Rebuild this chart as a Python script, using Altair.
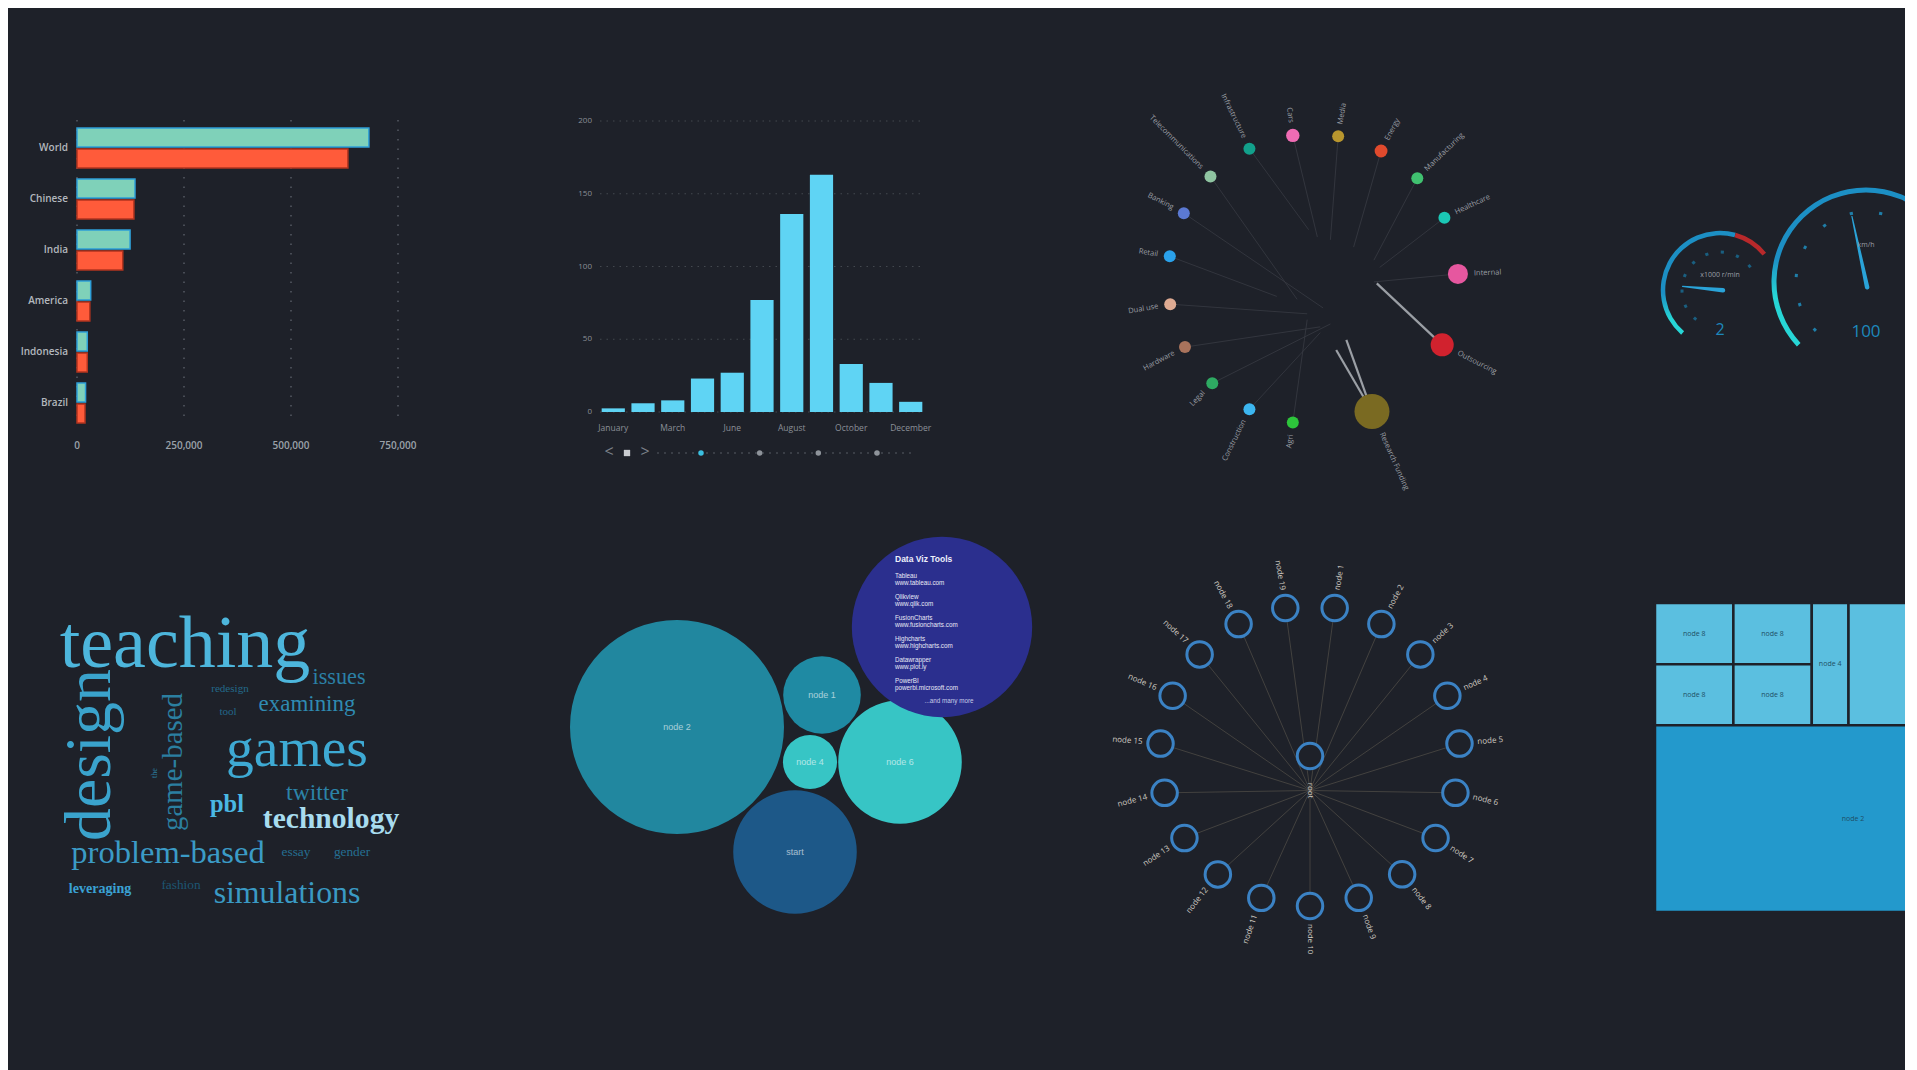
import math
import altair as alt
import pandas as pd

OX, OY = 8, 8
W, H = 1897, 1062
BG = "#1e2129"
SANS = "Open Sans"


def RX(a, b):
    return [a - OX, b - OX]


def RY(a, b):
    return [a - OY, b - OY]


# ===================== DATA =====================
# 1. horizontal grouped bars
countries = ["World", "Chinese", "India", "America", "Indonesia", "Brazil"]
speakers_a = [682000, 135500, 124000, 32000, 24000, 20000]
speakers_b = [633000, 133000, 107000, 30000, 24000, 18700]
series_names = ["Native speakers", "Second language"]
bar_ticks = [0, 250000, 500000, 750000]

# 2. monthly columns
months = ["January", "February", "March", "April", "June", "July",
          "August", "September", "October", "November", "December"]
month_values = [2.5, 6, 8, 23, 27, 77, 136, 163, 33, 20, 7]
month_labels = ["January", "March", "June", "August", "October", "December"]
col_ticks = [0, 50, 100, 150, 200]
pages = [1, 2, 3, 4]
page_state = ["current", "other", "other", "other"]

# 3. radial network
net_names = ["Infrastructure", "Cars", "Media", "Energy", "Manufacturing", "Healthcare",
             "Internal", "Outsourcing", "Research Funding", "Agri", "Construction", "Legal",
             "Hardware", "Dual use", "Retail", "Banking", "Telecommunications"]
net_angles = [-26, -8, 10, 28, 46, 65, 88, 117, 156, 188, 206, 224, 242, 260, 279, 297, 315]
net_weights = [1.0, 1.25, 1.0, 1.15, 1.0, 1.0, 2.8, 3.7, 8.5, 1.0, 1.0, 1.0, 1.0, 1.0, 1.0, 1.0, 1.0]
net_colors = ["#12a08b", "#f06cb4", "#b8962e", "#e04a2d", "#40c170", "#1bc7b5", "#e6579f",
              "#d1222e", "#7a6a22", "#2dc53b", "#3cb6f0", "#2eaa62", "#a9735c", "#deaa92",
              "#2aa1ea", "#5b79d2", "#8fc4a1"]
edge_src = list(range(17)) + [8]
edge_tx = [-0.03, 0.03, 0.12, 0.28, 0.42, 0.46, 0.42, 0.44, 0.16, -0.04, 0.05, 0.12, 0.05, -0.04, -0.25, 0.07, -0.11, 0.23]
edge_ty = [0.34, 0.29, 0.27, 0.22, 0.13, 0.08, -0.02, -0.03, -0.49, -0.28, -0.37, -0.31, -0.33, -0.24, -0.12, -0.2, -0.14, -0.42]
edge_strength = [1, 1, 1, 1, 1, 1, 1, 3, 4, 1, 1, 1, 1, 1, 1, 1, 1, 4]

# 4. gauges
rpm_value = 2.3
rpm_max = 8
rpm_red = 6.5
rpm_ticks = [0, 1, 2, 3, 4, 5, 6, 7, 8]
speed_value = 100
speed_max = 220
speed_ticks = [0, 20, 40, 60, 80, 100, 120, 140, 160, 180, 200, 220]

# 5. word cloud
words = ["teaching", "design", "games", "problem-based", "simulations", "technology",
         "game-based", "pbl", "twitter", "examining", "issues", "leveraging", "gender",
         "essay", "fashion", "redesign", "tool", "the"]
word_weight = [100, 89, 75, 44, 43, 40, 39, 33, 32, 31, 30, 19, 18, 18, 18, 15, 15, 11]
word_colors = ["#4db6dc", "#3aa3cc", "#3eaad4", "#3b9bc6", "#3a9ac4", "#a8dcef",
               "#2b7fa0", "#4ab8e3", "#2c83a8", "#2f8bb2", "#2b80a6", "#3aa2d4", "#256f92",
               "#256f92", "#1d5673", "#23698a", "#22678a", "#2b7fa0"]
bold_words = ["technology", "pbl", "leveraging"]
# layout of the cloud (cloud units)
word_x = [36.25, 17.5, 64.25, 32.0, 61.75, 72.75, 35.5, 46.75, 69.25, 66.75, 74.75, 15.0, 78.0, 64.0, 35.25, 47.5, 47.0, 29.25]
word_y = [68.25, 46.25, 43.4, 19.25, 9.25, 28.0, 44.5, 32.0, 35.0, 57.25, 64.0, 11.75, 21.0, 21.0, 12.75, 62.0, 56.25, 41.75]
word_rot = [0, 270, 0, 0, 0, 0, 270, 0, 0, 0, 0, 0, 0, 0, 0, 0, 0, 270]

# 6. bubbles
bubble_names = ["node 2", "node 1", "node 4", "node 6", "start", "Data Viz Tools"]
bubble_values = [114, 15, 7.3, 38, 38, 81]
bubble_colors = ["#21879f", "#1f8aa3", "#37c5c5", "#37c5c5", "#1d5888", "#2b2f8e"]
bubble_x = [2.34, 5.24, 5.0, 6.8, 4.7, 7.64]
bubble_y = [4.66, 5.30, 3.96, 3.96, 2.16, 6.66]
tools = ["Tableau", "Qlikview", "FusionCharts", "Highcharts", "Datawrapper", "PowerBI"]
tool_urls = ["www.tableau.com", "www.qlik.com", "www.fusioncharts.com",
             "www.highcharts.com", "www.plot.ly", "powerbi.microsoft.com"]

# 7. star network
star_labels = ["node 1", "node 2", "node 3", "node 4", "node 5", "node 6", "node 7",
               "node 8", "node 9", "node 10", "node 11", "node 12", "node 13", "node 14",
               "node 15", "node 16", "node 17", "node 18", "node 19"]

# 8. treemap
tm_names = ["node 8", "node 8", "node 8", "node 8", "node 4", "node 5", "node 2"]
tm_values = [48, 48, 48, 48, 45, 248, 740]
tm_group = ["top", "top", "top", "top", "top", "top", "bottom"]
tm_columns = [[0, 1], [2, 3], [4], [5]]

layers = []

# ===================== 1. BAR CHART =====================
bx = alt.Scale(domain=[0, 750000], range=RX(77, 398))
by = alt.Scale(domain=countries, range=RY(122.5, 428.5), paddingInner=0, paddingOuter=0)
bar_df = pd.DataFrame({"country": countries * 2,
                       "series": [series_names[0]] * 6 + [series_names[1]] * 6,
                       "value": speakers_a + speakers_b})
tick_df = pd.DataFrame({"tick": bar_ticks})
layers.append(alt.Chart(tick_df).mark_rule(color="#5a5f68", strokeDash=[1.5, 8], strokeWidth=1.4).encode(
    x=alt.X("tick:Q", scale=bx, axis=None), y=alt.value(120 - OY), y2=alt.value(423 - OY)))
layers.append(alt.Chart(bar_df).mark_bar(strokeWidth=1.5).encode(
    x=alt.X("value:Q", scale=bx, axis=None),
    y=alt.Y("country:N", scale=by, axis=None),
    yOffset=alt.YOffset("series:N", scale=alt.Scale(domain=series_names, paddingInner=0.1, paddingOuter=0.26)),
    color=alt.Color("series:N", scale=alt.Scale(domain=series_names, range=["#7fd1b9", "#ff5b3a"]), legend=None),
    stroke=alt.Stroke("series:N", scale=alt.Scale(domain=series_names, range=["#2e9fd8", "#b3341f"]), legend=None)))
layers.append(alt.Chart(tick_df).mark_text(font=SANS, fontSize=10, fontWeight=600, color="#9ba1a9").encode(
    x=alt.X("tick:Q", scale=bx, axis=None), y=alt.value(446 - OY), text=alt.Text("tick:Q", format=",")))
layers.append(alt.Chart(pd.DataFrame({"country": countries})).mark_text(
    font=SANS, fontSize=10, fontWeight=600, color="#b3b8be", align="right", baseline="middle").encode(
    x=alt.value(68 - OX), y=alt.Y("country:N", scale=by, axis=None), text="country:N"))

# ===================== 2. COLUMN CHART =====================
cxs = alt.Scale(domain=months, range=RX(598.4, 925.6), paddingInner=0.22, paddingOuter=0.11)
cys = alt.Scale(domain=[0, 200], range=RY(412, 121))
ctick_df = pd.DataFrame({"tick": col_ticks})
layers.append(alt.Chart(ctick_df).mark_rule(color="#43484f", strokeDash=[1.5, 5], strokeWidth=1).encode(
    y=alt.Y("tick:Q", scale=cys, axis=None), x=alt.value(600 - OX), x2=alt.value(923 - OX)))
layers.append(alt.Chart(pd.DataFrame({"month": months, "value": month_values})).mark_bar(color="#5fd4f4").encode(
    x=alt.X("month:N", scale=cxs, axis=None), y=alt.Y("value:Q", scale=cys, axis=None)))
layers.append(alt.Chart(ctick_df).mark_text(font=SANS, fontSize=8, color="#8b9098", align="right", baseline="middle").encode(
    y=alt.Y("tick:Q", scale=cys, axis=None), x=alt.value(592 - OX), text="tick:Q"))
layers.append(alt.Chart(pd.DataFrame({"month": month_labels})).mark_text(font=SANS, fontSize=8.5, color="#8b9098").encode(
    x=alt.X("month:N", scale=cxs, axis=None), y=alt.value(428 - OY), text="month:N"))
# pager
pxs = alt.Scale(domain=[1, 4], range=RX(701, 877))
layers.append(alt.Chart(pd.DataFrame({"page": pages})).mark_rule(color="#3c4148", strokeDash=[2, 5], strokeWidth=1).encode(
    x=alt.value(657 - OX), x2=alt.value(913 - OX), y=alt.value(453 - OY)))
layers.append(alt.Chart(pd.DataFrame({"page": pages, "state": page_state})).mark_circle(size=30, opacity=1).encode(
    x=alt.X("page:Q", scale=pxs, axis=None), y=alt.value(453 - OY),
    color=alt.Color("state:N", scale=alt.Scale(domain=["current", "other"], range=["#3bbfe0", "#8e939a"]), legend=None)))
layers.append(alt.Chart(pd.DataFrame({"page": [1]})).mark_text(text="<", font=SANS, fontSize=16, color="#7c8189", baseline="middle").encode(
    x=alt.value(609 - OX), y=alt.value(452 - OY)))
layers.append(alt.Chart(pd.DataFrame({"page": [1]})).mark_text(text=">", font=SANS, fontSize=16, color="#7c8189", baseline="middle").encode(
    x=alt.value(645 - OX), y=alt.value(452 - OY)))
layers.append(alt.Chart(pd.DataFrame({"page": [1]})).mark_square(size=40, color="#c9ccd0", opacity=1).encode(
    x=alt.value(627 - OX), y=alt.value(453 - OY)))

# ===================== 3. RADIAL NETWORK =====================
NCX, NCY, NR = 1313, 279, 145
n1x = alt.Scale(domain=[-1, 1], range=RX(NCX - NR, NCX + NR))
n1y = alt.Scale(domain=[-1, 1], range=RY(NCY + NR, NCY - NR))
net_df = pd.DataFrame({"name": net_names, "angle": net_angles, "weight": net_weights})
edge_df = pd.DataFrame({"angle": [net_angles[i] for i in edge_src], "tx": edge_tx, "ty": edge_ty,
                        "strength": edge_strength})
ecalc = dict(ux="sin(datum.angle*PI/180)", uy="cos(datum.angle*PI/180)")
for cond, col, sw in [("datum.strength < 2", "#3a3e45", 0.8), ("datum.strength >= 2", "#a9adb3", 2.2)]:
    layers.append(alt.Chart(edge_df).transform_filter(cond).transform_calculate(**ecalc).mark_rule(
        color=col, strokeWidth=sw, opacity=0.9).encode(
        x=alt.X("ux:Q", scale=n1x, axis=None), y=alt.Y("uy:Q", scale=n1y, axis=None),
        x2="tx:Q", y2="ty:Q"))
layers.append(alt.Chart(net_df).transform_calculate(**ecalc).mark_circle(opacity=1).encode(
    x=alt.X("ux:Q", scale=n1x, axis=None), y=alt.Y("uy:Q", scale=n1y, axis=None),
    size=alt.Size("weight:Q", scale=alt.Scale(domain=[0, 10], range=[0, 1440]), legend=None),
    color=alt.Color("name:N", scale=alt.Scale(domain=net_names, range=net_colors), legend=None)))
lab_calc = dict(
    th="(datum.angle + 360) % 360",
    lf=f"1 + (6*sqrt(datum.weight) + 6)/{NR}",
)
for cond, al, rot in [("datum.th < 180", "left", "(datum.th + 270) % 360"),
                      ("datum.th >= 180", "right", "(datum.th + 90) % 360")]:
    layers.append(alt.Chart(net_df).transform_calculate(**lab_calc).transform_calculate(
        lx="sin(datum.th*PI/180)*datum.lf", ly="cos(datum.th*PI/180)*datum.lf", rot=rot).transform_filter(cond).mark_text(
        align=al, baseline="middle", font=SANS, fontSize=7.5, color="#9a9ea4").encode(
        x=alt.X("lx:Q", scale=n1x, axis=None), y=alt.Y("ly:Q", scale=n1y, axis=None),
        text="name:N", angle=alt.Angle("rot:Q", scale=None)))

# ===================== 4. GAUGES =====================
def gauge(cx, cy, R, thick, vmax, a0, a1, ticks, value, red_from, stops, needle_frac, tick_r,
          tick_half, caption, caption_y, value_y, value_size, tick_color):
    xs = alt.Scale(domain=[-1, 1], range=RX(cx - R, cx + R))
    ys = alt.Scale(domain=[-1, 1], range=RY(cy + R, cy - R))
    ts = alt.Scale(domain=[0, vmax], range=[math.radians(a0), math.radians(a1)])
    out = []
    starts = [0] if red_from is None else [0, red_from]
    ends = [vmax] if red_from is None else [red_from, vmax]
    zones = ["normal"] if red_from is None else ["normal", "red"]
    zdf = pd.DataFrame({"start": starts, "end": ends, "zone": zones})
    pos = dict(x=alt.X("gx:Q", scale=xs, axis=None), y=alt.Y("gy:Q", scale=ys, axis=None))
    grad = alt.Gradient(gradient="linear", x1=0, x2=0, y1=0, y2=1,
                        stops=[alt.GradientStop(color=c, offset=o) for o, c in stops])
    out.append(alt.Chart(zdf).transform_filter("datum.zone == 'normal'").transform_calculate(gx="0", gy="0").mark_arc(
        radius=R + thick / 2, radius2=R - thick / 2, color=grad).encode(
        theta=alt.Theta("start:Q", scale=ts, stack=None), theta2="end:Q", **pos))
    if red_from is not None:
        out.append(alt.Chart(zdf).transform_filter("datum.zone == 'red'").transform_calculate(gx="0", gy="0").mark_arc(
            radius=R + thick / 2, radius2=R - thick / 2, color="#b8292b").encode(
            theta=alt.Theta("start:Q", scale=ts, stack=None), theta2="end:Q", **pos))
    out.append(alt.Chart(pd.DataFrame({"v": ticks})).transform_calculate(
        gx="0", gy="0", t0=f"datum.v - {tick_half}", t1=f"datum.v + {tick_half}").mark_arc(
        radius=tick_r + 1.5, radius2=tick_r - 1.5, color=tick_color).encode(
        theta=alt.Theta("t0:Q", scale=ts, stack=None), theta2="t1:Q", **pos))
    ndf = pd.DataFrame({"p": [-0.08, 1.0], "value": [value, value]})
    out.append(alt.Chart(ndf).transform_calculate(
        ang=f"({a0} + datum.value/{vmax}*({a1 - a0}))*PI/180").transform_calculate(
        nx=f"sin(datum.ang)*datum.p*{needle_frac}", ny=f"cos(datum.ang)*datum.p*{needle_frac}").mark_trail(
        color="#2aa3d8").encode(
        x=alt.X("nx:Q", scale=xs, axis=None), y=alt.Y("ny:Q", scale=ys, axis=None),
        size=alt.Size("p:Q", scale=alt.Scale(domain=[-0.08, 1], range=[4.5, 1.2]), legend=None),
        order="p:Q"))
    out.append(alt.Chart(pd.DataFrame({"value": [value]})).transform_calculate(gx="0", gy=str(value_y)).mark_text(
        font=SANS, fontSize=value_size, color="#1d88bb", baseline="middle").encode(
        text=alt.Text("value:Q", format=".0f"), **pos))
    out.append(alt.Chart(pd.DataFrame({"caption": [caption]})).transform_calculate(gx="0", gy=str(caption_y)).mark_text(
        font=SANS, fontSize=7, color="#9a9fa6", baseline="middle").encode(text="caption:N", **pos))
    return out


layers += gauge(1720, 290, 57, 4.5, rpm_max, -139, 51, rpm_ticks, rpm_value, rpm_red,
                [(0, "#1c8fc4"), (0.6, "#1c8fc4"), (0.85, "#27d6d6"), (1, "#27d6d6")],
                0.66, 38, 0.1, "x1000 r/min", 0.26, -0.7, 16, "#1a5f80")
layers += gauge(1866, 282, 92, 5, speed_max, -133, 133, speed_ticks, speed_value, None,
                [(0, "#1c8fc4"), (0.45, "#1c8fc4"), (0.68, "#27d6d6"), (1, "#27d6d6")],
                0.73, 70, 1.1, "km/h", 0.40, -0.54, 17, "#1f7ea8")

# ===================== 5. WORD CLOUD =====================
wxs = alt.Scale(domain=[0, 100], range=RX(40, 440))
wys = alt.Scale(domain=[0, 100], range=RY(940, 540))
word_df = pd.DataFrame({"word": words, "weight": word_weight, "wx": word_x, "wy": word_y, "rot": word_rot})
for filt, fw in [(alt.FieldOneOfPredicate(field="word", oneOf=bold_words), "bold"),
                 (alt.LogicalNotPredicate(**{"not": alt.FieldOneOfPredicate(field="word", oneOf=bold_words)}), "normal")]:
    layers.append(alt.Chart(word_df).transform_filter(filt).mark_text(
        font="Liberation Serif", fontWeight=fw, align="center", baseline="alphabetic").encode(
        x=alt.X("wx:Q", scale=wxs, axis=None), y=alt.Y("wy:Q", scale=wys, axis=None),
        text="word:N",
        size=alt.Size("weight:Q", scale=alt.Scale(domain=[0, 100], range=[0, 74]), legend=None),
        color=alt.Color("word:N", scale=alt.Scale(domain=words, range=word_colors), legend=None),
        angle=alt.Angle("rot:Q", scale=None)))

# ===================== 6. BUBBLES =====================
bxs = alt.Scale(domain=[0, 10], range=RX(560, 1060))
bys = alt.Scale(domain=[0, 10], range=RY(960, 460))
bub_df = pd.DataFrame({"name": bubble_names, "value": bubble_values, "bx": bubble_x, "by": bubble_y})
layers.append(alt.Chart(bub_df).mark_circle(opacity=1).encode(
    x=alt.X("bx:Q", scale=bxs, axis=None), y=alt.Y("by:Q", scale=bys, axis=None),
    size=alt.Size("value:Q", scale=alt.Scale(domain=[0, 114], range=[0, 45796]), legend=None),
    color=alt.Color("name:N", scale=alt.Scale(domain=bubble_names, range=bubble_colors), legend=None),
    order=alt.Order("ord:Q")).transform_calculate(ord="datum.name == 'Data Viz Tools' ? 1 : 0"))
layers.append(alt.Chart(bub_df).transform_filter("datum.name != 'Data Viz Tools'").mark_text(
    font="Liberation Sans", fontSize=9, color="#ffffff", opacity=0.6, baseline="middle").encode(
    x=alt.X("bx:Q", scale=bxs, axis=None), y=alt.Y("by:Q", scale=bys, axis=None), text="name:N"))
tys = alt.Scale(domain=[0, 5], range=RY(576, 681))
tool_df = pd.DataFrame({"i": list(range(len(tools))), "tool": tools, "url": tool_urls})
layers.append(alt.Chart(tool_df).mark_text(font="Liberation Sans", fontSize=6.3, color="#e8e9f5", align="left").encode(
    x=alt.value(895 - OX), y=alt.Y("i:Q", scale=tys, axis=None), text="tool:N"))
layers.append(alt.Chart(tool_df).mark_text(font="Liberation Sans", fontSize=6.3, color="#e8e9f5", align="left", dy=7.2).encode(
    x=alt.value(895 - OX), y=alt.Y("i:Q", scale=tys, axis=None), text="url:N"))
layers.append(alt.Chart(pd.DataFrame({"t": ["Data Viz Tools"]})).mark_text(
    font="Liberation Sans", fontSize=8.5, fontWeight="bold", color="#eef0fb", align="left").encode(
    x=alt.value(895 - OX), y=alt.value(559 - OY), text="t:N"))
layers.append(alt.Chart(pd.DataFrame({"t": ["...and many more"]})).mark_text(
    font="Liberation Sans", fontSize=6.3, color="#c8cbe8").encode(
    x=alt.value(949 - OX), y=alt.value(701 - OY), text="t:N"))

# ===================== 7. STAR NETWORK =====================
SCX, SCY, SR = 1310, 756, 150
sxs = alt.Scale(domain=[-1, 1], range=RX(SCX - SR, SCX + SR))
sys_ = alt.Scale(domain=[-1, 1], range=RY(SCY + SR, SCY - SR))
star_df = pd.DataFrame({"name": star_labels, "idx": list(range(len(star_labels)))})
n_star = len(star_labels)
scalc = dict(th=f"(9.47 + datum.idx*360/{n_star}) % 360")
layers.append(alt.Chart(star_df).transform_calculate(**scalc).transform_calculate(
    ux="sin(datum.th*PI/180)", uy="cos(datum.th*PI/180)", hx="0", hy="-0.23").mark_rule(
    color="#4d4a45", strokeWidth=0.8).encode(
    x=alt.X("ux:Q", scale=sxs, axis=None), y=alt.Y("uy:Q", scale=sys_, axis=None), x2="hx:Q", y2="hy:Q"))
layers.append(alt.Chart(star_df).transform_calculate(**scalc).transform_calculate(
    ux="sin(datum.th*PI/180)", uy="cos(datum.th*PI/180)").mark_point(
    shape="circle", fill=BG, stroke="#3b82c4", strokeWidth=3, size=650, opacity=1, fillOpacity=1).encode(
    x=alt.X("ux:Q", scale=sxs, axis=None), y=alt.Y("uy:Q", scale=sys_, axis=None)))
for cond, al, rot in [("datum.th < 180", "left", "(datum.th + 270) % 360"),
                      ("datum.th >= 180", "right", "(datum.th + 90) % 360")]:
    layers.append(alt.Chart(star_df).transform_calculate(**scalc).transform_calculate(
        lx=f"sin(datum.th*PI/180)*(1 + 18/{SR})", ly=f"cos(datum.th*PI/180)*(1 + 18/{SR})", rot=rot).transform_filter(cond).mark_text(
        align=al, baseline="middle", font=SANS, fontSize=8, color="#cfcac2").encode(
        x=alt.X("lx:Q", scale=sxs, axis=None), y=alt.Y("ly:Q", scale=sys_, axis=None),
        text="name:N", angle=alt.Angle("rot:Q", scale=None)))
root_df = pd.DataFrame({"name": ["root"], "rx": [0.0], "ry": [0.0], "lx": [0.0], "ly": [-0.23]})
layers.append(alt.Chart(root_df).mark_point(
    shape="circle", fill=BG, stroke="#3b82c4", strokeWidth=3, size=650, opacity=1, fillOpacity=1).encode(
    x=alt.X("rx:Q", scale=sxs, axis=None), y=alt.Y("ry:Q", scale=sys_, axis=None)))
layers.append(alt.Chart(root_df).mark_text(font=SANS, fontSize=8, color="#cfcac2", angle=90, baseline="middle").encode(
    x=alt.X("lx:Q", scale=sxs, axis=None), y=alt.Y("ly:Q", scale=sys_, axis=None), text="name:N"))

# ===================== 8. TREEMAP =====================
tm_total = sum(tm_values)
tm_top = sum(v for v, g in zip(tm_values, tm_group) if g == "top")
top_h = tm_top / tm_total
cells = []
xcur = 0.0
for col in tm_columns:
    cv = sum(tm_values[i] for i in col)
    w = cv / tm_top
    ycur = 0.0
    for i in col:
        h = tm_values[i] / cv * top_h
        cells.append((tm_names[i], xcur, xcur + w, ycur, ycur + h, "top"))
        ycur += h
    xcur += w
cells.append((tm_names[6], 0.0, 1.0, top_h, 1.0, "bottom"))
tm_df = pd.DataFrame(cells, columns=["name", "x0", "x1", "y0", "y1", "group"])
txs = alt.Scale(domain=[0, 1], range=RX(1655, 2051))
tys2 = alt.Scale(domain=[0, 1], range=RY(603, 912))
layers.append(alt.Chart(tm_df).mark_rect(stroke=BG, strokeWidth=2.5).encode(
    x=alt.X("x0:Q", scale=txs, axis=None), x2="x1:Q",
    y=alt.Y("y0:Q", scale=tys2, axis=None), y2="y1:Q",
    color=alt.Color("group:N", scale=alt.Scale(domain=["top", "bottom"], range=["#5bbfe0", "#2399cc"]), legend=None)))
# labels only for cells whose centre lies inside the visible part of the panel
layers.append(alt.Chart(tm_df).transform_calculate(
    mx="(datum.x0 + datum.x1)/2", my="(datum.y0 + datum.y1)/2").transform_filter("datum.mx < 0.6").mark_text(
    font=SANS, fontSize=7, color="#1f4f66", baseline="middle").encode(
    x=alt.X("mx:Q", scale=txs, axis=None), y=alt.Y("my:Q", scale=tys2, axis=None), text="name:N"))

# ===================== COMPOSE =====================
ind = "independent"
chart = alt.layer(*layers).resolve_scale(
    x=ind, y=ind, color=ind, size=ind, stroke=ind, yOffset=ind, theta=ind, opacity=ind
).properties(
    width=W, height=H, padding=0, background=BG,
    autosize=alt.AutoSizeParams(type="none"),
).configure_view(strokeWidth=0)

chart.save("out.html", embed_options={"renderer": "svg", "actions": False})
